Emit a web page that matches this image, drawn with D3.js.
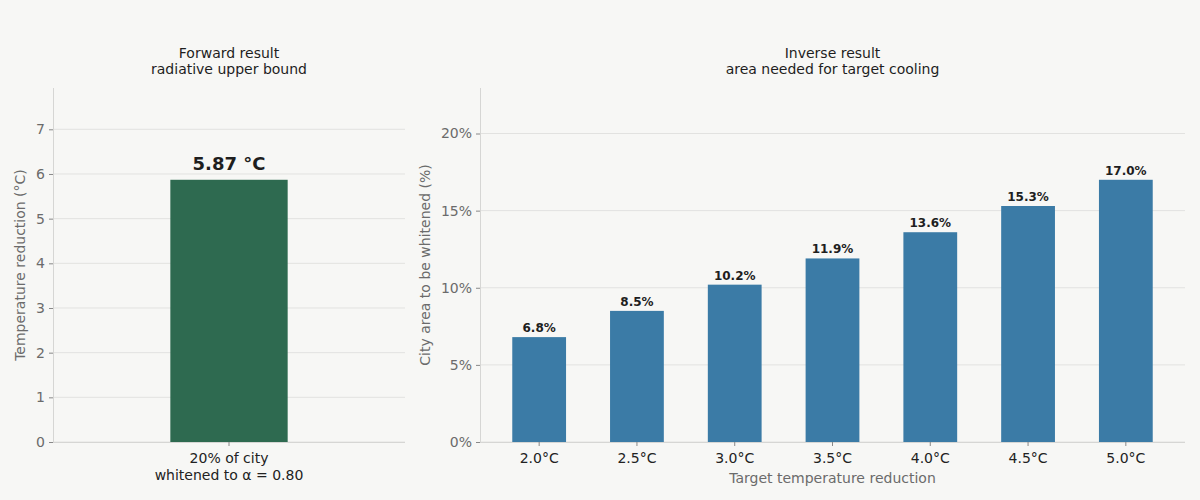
<!DOCTYPE html>
<html>
<head>
<meta charset="utf-8">
<script src="https://cdn.jsdelivr.net/npm/d3@7"></script>
<style>
  body { margin: 0; background: #f7f7f5; }
  svg { font-family: "DejaVu Sans", sans-serif; display: block; }
  .grid line { stroke: #e2e2e0; }
  .domain { stroke: #d6d6d4; }
</style>
</head>
<body>
<svg width="1200" height="500"></svg>
<script>
// forward result: one bar
var fwdCategories = ["20% of city|whitened to α = 0.80"];
var fwdValues = [5.87];
var fwdTicks = [0, 1, 2, 3, 4, 5, 6, 7];

// inverse result: area needed per target cooling
var invCategories = ["2.0°C", "2.5°C", "3.0°C", "3.5°C", "4.0°C", "4.5°C", "5.0°C"];
var invValues = [6.8, 8.5, 10.2, 11.9, 13.6, 15.3, 17.0];
var invTicks = [0, 5, 10, 15, 20];

var svg = d3.select("svg");
svg.append("rect").attr("width", 1200).attr("height", 500).attr("fill", "#f7f7f5");

// draws one panel; opts holds the layout of that panel
function panel(opts) {
  var g = svg.append("g").attr("transform", "translate(" + opts.left + "," + opts.top + ")");
  var w = opts.width, h = opts.height;

  var x = d3.scaleBand().domain(opts.cats).range([0, w])
      .paddingInner(opts.pin).paddingOuter(opts.pout);
  var y = d3.scaleLinear().domain([0, d3.max(opts.vals) * 1.35]).range([h, 0]);

  // gridlines
  g.append("g").attr("class", "grid")
    .selectAll("line").data(opts.ticks).enter().append("line")
      .attr("x1", 0).attr("x2", w)
      .attr("y1", function(d) { return y(d); })
      .attr("y2", function(d) { return y(d); });

  g.selectAll(".bar").data(opts.vals).enter().append("rect")
      .attr("x", function(d, i) { return x(opts.cats[i]); })
      .attr("y", function(d) { return y(d); })
      .attr("width", x.bandwidth())
      .attr("height", function(d) { return h - y(d); })
      .attr("fill", opts.color);

  g.selectAll(".val").data(opts.vals).enter().append("text")
      .attr("x", function(d, i) { return x(opts.cats[i]) + x.bandwidth() / 2; })
      .attr("y", function(d) { return y(d) - opts.labelGap; })
      .attr("text-anchor", "middle")
      .attr("font-weight", "bold")
      .attr("font-size", opts.labelSize)
      .attr("fill", "#1e1e1e")
      .text(opts.fmt);

  var ya = g.append("g").call(d3.axisLeft(y).tickValues(opts.ticks).tickSize(4).tickPadding(4).tickFormat(opts.tickFmt));
  ya.selectAll("text").attr("font-size", 14).attr("fill", "#6b6b6b").attr("font-family", "DejaVu Sans");
  ya.selectAll(".tick line").attr("stroke", "#888");
  ya.select(".domain").attr("d", "M0.5," + h + "V0");

  var xa = g.append("g").attr("transform", "translate(0," + h + ")")
      .call(d3.axisBottom(x).tickSize(4));
  xa.select(".domain").attr("d", "M0," + 0.5 + "H" + w);
  xa.selectAll(".tick line").attr("stroke", "#888");
  xa.selectAll("text").remove();
  xa.selectAll(".tick").each(function(d) {
    var lines = d.split("|");
    var t = d3.select(this).append("text")
        .attr("text-anchor", "middle").attr("fill", "#222")
        .attr("font-size", 14).attr("font-family", "DejaVu Sans");
    lines.forEach(function(s, i) {
      t.append("tspan").attr("x", 0).attr("y", 21 + i * 17).text(s);
    });
  });

  // titles
  opts.title.forEach(function(s, i) {
    g.append("text").attr("x", w / 2).attr("y", -30 + i * 16)
      .attr("text-anchor", "middle").attr("font-size", 14).attr("fill", "#1e1e1e").text(s);
  });

  g.append("text")
    .attr("transform", "translate(" + opts.ylabelX + "," + (h / 2) + ") rotate(-90)")
    .attr("text-anchor", "middle").attr("font-size", 14).attr("fill", "#6b6b6b")
    .text(opts.ylabel);

  if (opts.xlabel) {
    g.append("text").attr("x", w / 2).attr("y", h + 41)
      .attr("text-anchor", "middle").attr("font-size", 14).attr("fill", "#6b6b6b")
      .text(opts.xlabel);
  }
}

panel({
  left: 53, top: 88, width: 352, height: 354,
  cats: fwdCategories, vals: fwdValues, ticks: fwdTicks,
  pin: 0, pout: 1, color: "#2e6a50",
  labelGap: 10, labelSize: 18,
  fmt: function(d) { return d.toFixed(2) + " °C"; },
  tickFmt: function(d) { return d; },
  title: ["Forward result", "radiative upper bound"],
  ylabel: "Temperature reduction (°C)", ylabelX: -28
});

panel({
  left: 480, top: 88, width: 705, height: 354,
  cats: invCategories, vals: invValues, ticks: invTicks,
  pin: 0.45, pout: 0.33, color: "#3b7ba6",
  labelGap: 5, labelSize: 12,
  fmt: function(d) { return d.toFixed(1) + "%"; },
  tickFmt: function(d) { return d + "%"; },
  title: ["Inverse result", "area needed for target cooling"],
  ylabel: "City area to be whitened (%)", ylabelX: -50,
  xlabel: "Target temperature reduction"
});
</script>
</body>
</html>
